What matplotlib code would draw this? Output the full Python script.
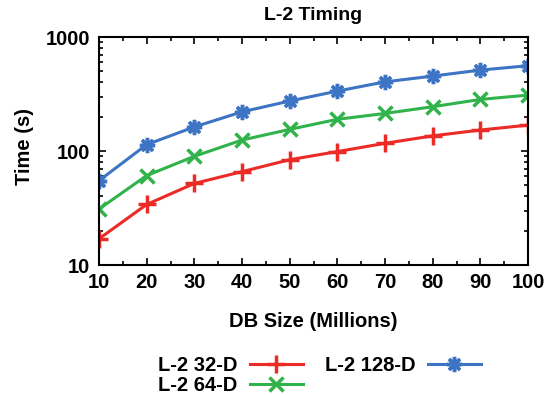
import matplotlib
matplotlib.use("Agg")
import matplotlib.pyplot as plt
from matplotlib.ticker import MultipleLocator, LogLocator, NullFormatter, FixedLocator

plt.rcParams['font.family'] = ['Liberation Sans', 'DejaVu Sans']
plt.rcParams['font.weight'] = 'bold'

db_size = [10, 20, 30, 40, 50, 60, 70, 80, 90, 100]
t_32 = [17, 34, 52, 66, 84, 99, 117, 136, 153, 169]
t_64 = [31, 61, 90, 125, 155, 190, 214, 245, 284, 310]
t_128 = [55, 114, 163, 221, 275, 336, 405, 455, 514, 561]

fig = plt.figure(figsize=(5.5, 3.95), dpi=100)
ax = fig.add_axes([0.18, 0.329, 0.78, 0.577])

ax.plot(db_size, t_32, color='#ec2a26', lw=2.2, marker='+', ms=13, mew=2.5, label='L-2 32-D')
ax.plot(db_size, t_64, color='#2fb34a', lw=2.2, marker='x', ms=10, mew=2.5, label='L-2 64-D')
ax.plot(db_size, t_128, color='#3d74c3', lw=2.2, marker=(8, 2, 0), ms=11, mew=2.5, label='L-2 128-D')

ax.set_yscale('log')
ax.set_xlim(10, 100)
ax.set_ylim(10, 1000)
ax.xaxis.set_major_locator(MultipleLocator(10))
ax.xaxis.set_minor_locator(MultipleLocator(5))
ax.yaxis.set_major_locator(FixedLocator([10, 100, 1000]))
ax.yaxis.set_major_formatter(plt.FuncFormatter(lambda v, p: '%d' % v))
ax.yaxis.set_minor_locator(LogLocator(base=10, subs=range(2, 10)))
ax.yaxis.set_minor_formatter(NullFormatter())
ax.tick_params(which='both', direction='in', top=True, right=True, labelsize=14.5, width=1.2)
ax.tick_params(axis='x', pad=6)
ax.tick_params(axis='y', pad=6.5)
ax.tick_params(which='major', length=5)
ax.tick_params(which='minor', length=3)
for s in ax.spines.values():
    s.set_linewidth(1.5)

ax.set_title('L-2 Timing', fontsize=14, fontweight='bold', pad=12)
ax.set_xlabel('DB Size (Millions)', fontsize=14.5, fontweight='bold')
ax.xaxis.set_label_coords(0.5, -0.205)
ax.set_ylabel('Time (s)', fontsize=14.5, fontweight='bold')
ax.yaxis.set_label_coords(-0.152, 0.52)

leg = fig.legend(loc='upper left', bbox_to_anchor=(158 / 550, 1 - 356 / 395), ncol=2, frameon=False,
                 markerfirst=False, fontsize=14.5, handlelength=2.65, columnspacing=1.1,
                 labelspacing=0.05, handletextpad=0.6, borderpad=0, borderaxespad=0)

fig.savefig('out.png', dpi=100)
